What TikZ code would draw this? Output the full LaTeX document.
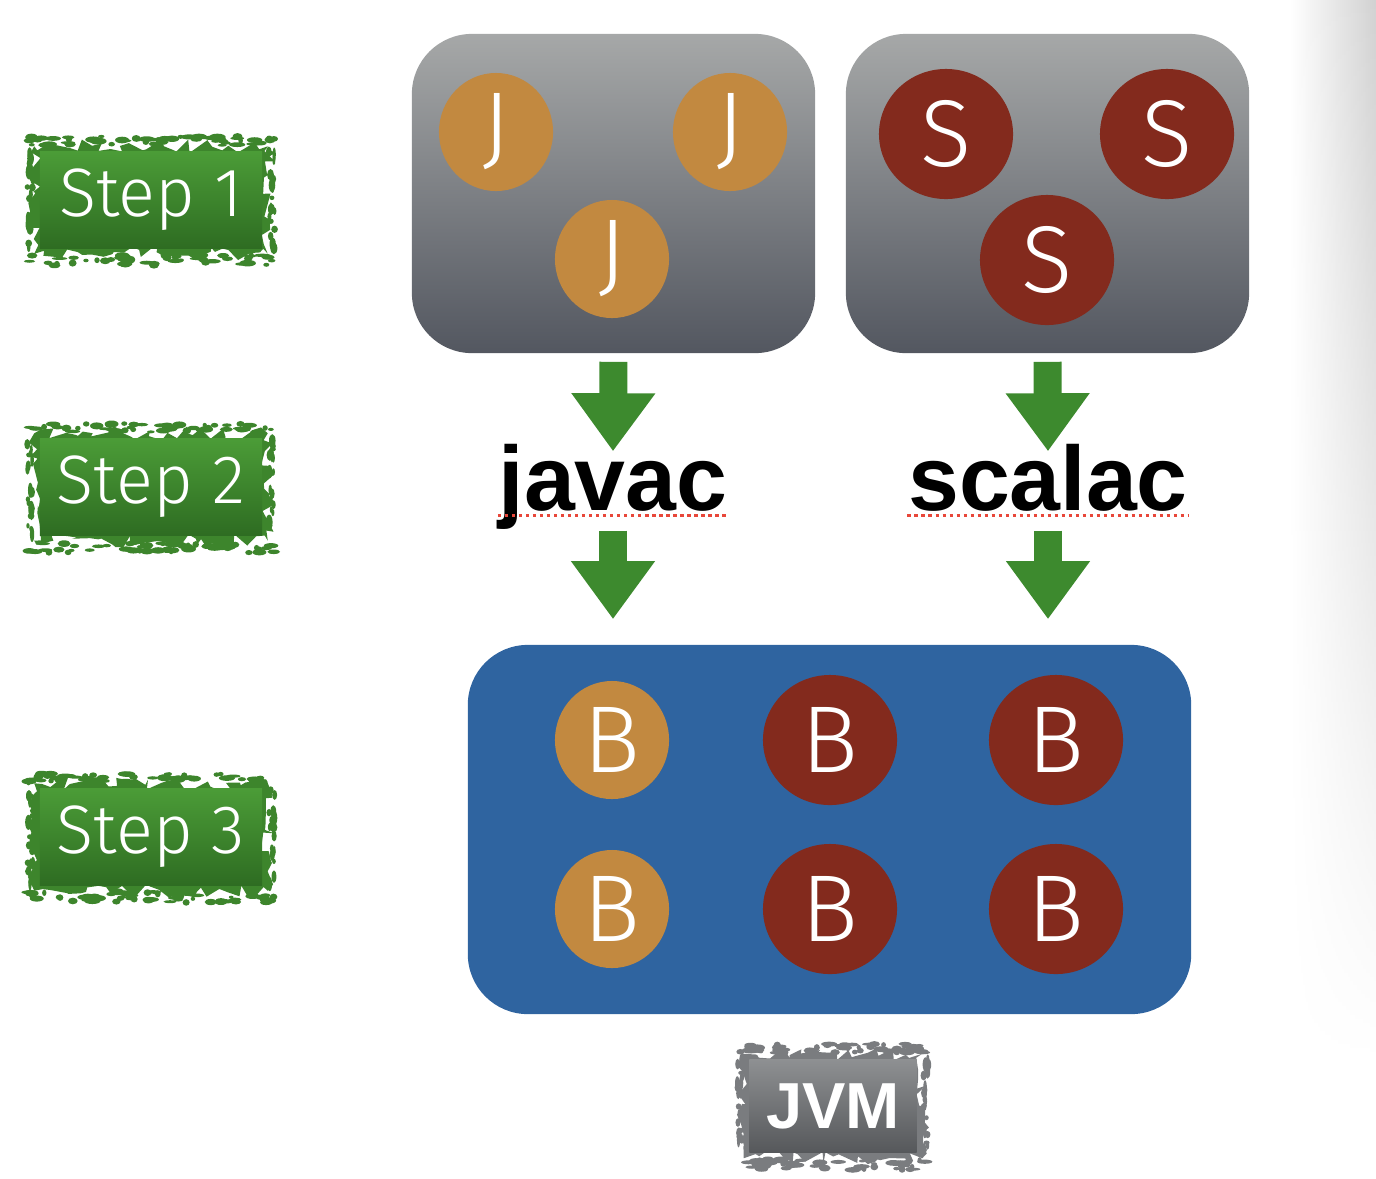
\documentclass[tikz,border=0pt]{standalone}
\usepackage{fontspec}
\setmainfont{Liberation Sans}
\IfFontExistsTF{Fira Sans Light}
  {\newfontfamily\lightfont{Fira Sans Light}}
  {\newfontfamily\lightfont{Liberation Sans}}
\usetikzlibrary{shapes.geometric,arrows.meta,decorations.pathmorphing,calc,backgrounds,fadings}

\definecolor{boxtop}{HTML}{A6A8A8}
\definecolor{boxbottom}{HTML}{535760}
\definecolor{javaorange}{HTML}{C28940}
\definecolor{scalared}{HTML}{832A1D}
\definecolor{byteblue}{HTML}{2F64A0}
\definecolor{arrowgreen}{HTML}{3D8A2E}
\definecolor{steptop}{HTML}{4B9C37}
\definecolor{stepbottom}{HTML}{2E6C22}
\definecolor{stepmid}{HTML}{3D852C}
\definecolor{jvmtop}{HTML}{8E9092}
\definecolor{jvmbottom}{HTML}{56585B}
\definecolor{jvmmid}{HTML}{7A7C7F}
\definecolor{spellred}{HTML}{E8473A}
\tikzfading[name=shadowfade, top color=transparent!0, middle color=transparent!5,
  bottom color=transparent!100]

\begin{document}
\begin{tikzpicture}[x=0.01cm, y=-0.01cm,
    sourcebox/.style ={rounded corners=0.6cm, minimum width=4.03cm, minimum height=3.19cm,
      top color=boxtop, bottom color=boxbottom},
    filecircle/.style ={ellipse, inner sep=0pt, text=white, font=\lightfont\fontsize{27}{29}\selectfont},
    javafile/.style ={filecircle, fill=javaorange, minimum width=1.14cm, minimum height=1.18cm},
    scalafile/.style ={filecircle, fill=scalared, minimum width=1.34cm, minimum height=1.30cm},
    compiler/.style ={anchor=base, inner sep=0pt, text height=0.58cm, text depth=0.2cm,
      font=\bfseries\fontsize{26}{28}\selectfont},
    flowarrow/.style ={draw=arrowgreen, line width=0.28cm, -{Triangle[length=0.58cm, width=0.8cm]}},
    spelling/.style ={spellred, line width=0.03cm, dash pattern=on 0.035cm off 0.035cm},
    grunge/.style ={decorate, decoration={random steps, segment length=2pt, amplitude=2pt}},
    steplabel/.style ={minimum width=2.22cm, minimum height=0.96cm, inner sep=0pt,
      top color=steptop, bottom color=stepbottom, text=white,
      font=\lightfont\fontsize{19.5}{22}\selectfont},
    jvmlabel/.style ={minimum width=1.67cm, minimum height=0.93cm, inner sep=0pt,
      top color=jvmtop, bottom color=jvmbottom, text=white,
      font=\bfseries\fontsize{18.5}{20}\selectfont}]
   \useasboundingbox (0,0) rectangle (1376,1178);
   \shade[left color=white, right color=black!18, path fading=shadowfade] (1290,0) rectangle (1376,1060);

   % source files
   \node[sourcebox] (javabox) at (613.5,193.5) {};
   \node[sourcebox] (scalabox) at (1047.5,193.5) {};
   \node[javafile] (j1) at (496,132) {J};
   \node[javafile] (j2) at (730,132) {J};
   \node[javafile] (j3) at (612,259) {J};
   \node[scalafile] (s1) at (946,134) {S};
   \node[scalafile] (s2) at (1167,134) {S};
   \node[scalafile] (s3) at (1047,260) {S};

   % compilers
   \node[compiler] (javac) at (613,510) {javac};
   \node[compiler] (scalac) at (1048,510) {scalac};
   \draw[spelling] ([yshift=-0.05cm]javac.base west) -- ([yshift=-0.05cm]javac.base east);
   \draw[spelling] ([yshift=-0.05cm]scalac.base west) -- ([yshift=-0.05cm]scalac.base east);

   % byte code
   \node[rounded corners=0.6cm, fill=byteblue, minimum width=7.23cm, minimum height=3.69cm]
     (bytebox) at (829.5,829.5) {};
   \node[javafile] (b1) at (612,740) {B};
   \node[scalafile] (b2) at (830,740) {B};
   \node[scalafile] (b3) at (1056,740) {B};
   \node[javafile] (b4) at (612,909) {B};
   \node[scalafile] (b5) at (830,909) {B};
   \node[scalafile] (b6) at (1056,909) {B};

   \draw[flowarrow, shorten <=0.08cm] (javabox.south) -- (javac.north);
   \draw[flowarrow, shorten <=0.08cm] (scalabox.south) -- (scalac.north);
   \draw[flowarrow, shorten >=0.25cm] (javac.south) -- (javac.south |- bytebox.north);
   \draw[flowarrow, shorten >=0.25cm] (scalac.south) -- (scalac.south |- bytebox.north);

   % labels
   \node[steplabel] (step1) at (151,200) {Step 1};
   \node[steplabel] (step2) at (151,487) {Step 2};
   \node[steplabel] (step3) at (151,837) {Step 3};
   \node[jvmlabel] (jvm) at (833,1106) {JVM};

   % ragged edges
   \pgfmathsetseed{42}
   \begin{scope}[on background layer]
     \foreach \lbl/\ink in {step1/stepmid, step2/stepmid, step3/stepmid, jvm/jvmmid}
       \fill[\ink, grunge] ($(\lbl.south west)+(-5,5)$) rectangle ($(\lbl.north east)+(5,-5)$);
   \end{scope}
   \foreach \lbl/\ink in {step1/stepmid, step2/stepmid, step3/stepmid, jvm/jvmmid}
   {
     \foreach \k in {1,...,55}
     {
       \fill[\ink] ($(\lbl.north west)!-0.05+1.1*rnd!(\lbl.north east)+(0,-6-rnd*9)$)
         ellipse [x radius={0.6pt+rnd*1.8pt}, y radius={0.4pt+rnd*0.6pt}];
       \fill[\ink] ($(\lbl.south west)!-0.05+1.1*rnd!(\lbl.south east)+(0,6+rnd*11)$)
         ellipse [x radius={0.6pt+rnd*1.8pt}, y radius={0.4pt+rnd*0.6pt}];
     }
     \foreach \k in {1,...,20}
     {
       \fill[\ink] ($(\lbl.south west)!rnd!(\lbl.north west)+(-6-rnd*6,0)$)
         ellipse [x radius={0.4pt+rnd*0.6pt}, y radius={0.6pt+rnd*1.6pt}];
       \fill[\ink] ($(\lbl.south east)!rnd!(\lbl.north east)+(6+rnd*6,0)$)
         ellipse [x radius={0.4pt+rnd*0.6pt}, y radius={0.6pt+rnd*1.6pt}];
     }
   }
 \end{tikzpicture}
\end{document}
